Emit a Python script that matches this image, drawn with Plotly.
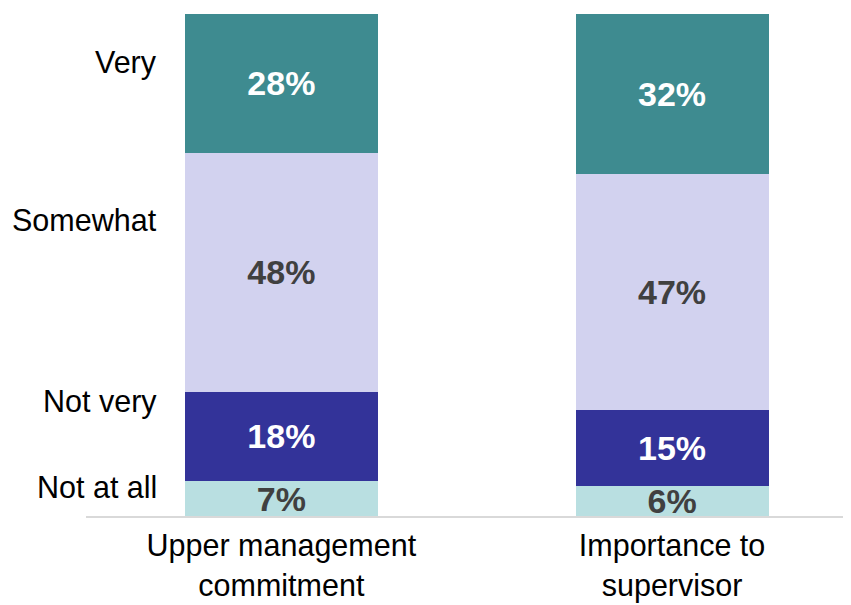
import plotly.graph_objects as go

categories = ["Upper management<br>commitment", "Importance to<br>supervisor"]
levels = ["Not at all", "Not very", "Somewhat", "Very"]
not_at_all = [6.9, 6.0]
not_very = [17.9, 15.1]
somewhat = [47.6, 47.0]
very = [27.6, 31.9]
labels_not_at_all = ["7%", "6%"]
labels_not_very = ["18%", "15%"]
labels_somewhat = ["48%", "47%"]
labels_very = ["28%", "32%"]
level_label_y = [5.8, 22.9, 59.0, 90.4]

series = [
    (not_at_all, labels_not_at_all, "#b9dfe1", "#404040"),
    (not_very, labels_not_very, "#333399", "#ffffff"),
    (somewhat, labels_somewhat, "#d2d2ef", "#404040"),
    (very, labels_very, "#3e8b90", "#ffffff"),
]

FONT = "Liberation Sans, Arial, sans-serif"
fig = go.Figure()
for (vals, txt, col, tcol), name in zip(series, levels):
    fig.add_trace(go.Bar(
        x=[0, 1], y=vals, name=name, text=txt,
        marker=dict(color=col, line=dict(width=0)),
        width=0.494,
        textposition="inside", insidetextanchor="middle",
        textfont=dict(family=FONT, size=34, color=tcol, weight="bold"),
        textangle=0,
    ))

for name, yv in zip(levels, level_label_y):
    fig.add_annotation(text=name, xref="paper", x=(159 - 86) / 765, xanchor="right",
                       yref="y", y=yv, yanchor="middle", showarrow=False,
                       font=dict(family=FONT, size=30.5, color="#000000"))

fig.update_layout(
    barmode="stack",
    width=843, height=597,
    margin=dict(l=78, r=0, t=6, b=89),
    paper_bgcolor="white", plot_bgcolor="white",
    showlegend=False,
    uniformtext=dict(minsize=34, mode="show"),
    xaxis=dict(tickmode="array", tickvals=[0, 1], ticktext=categories,
               range=[-0.5, 1.458], showgrid=False, zeroline=False,
               showline=True, linecolor="#d9d9d9", linewidth=1.5,
               ticks="", ticklabelstandoff=2, automargin=False,
               tickfont=dict(family=FONT, size=30.5, color="#000000")),
    yaxis=dict(range=[0, 100], visible=False, showgrid=False, zeroline=False,
               automargin=False),
)
fig.write_html("out.html")
